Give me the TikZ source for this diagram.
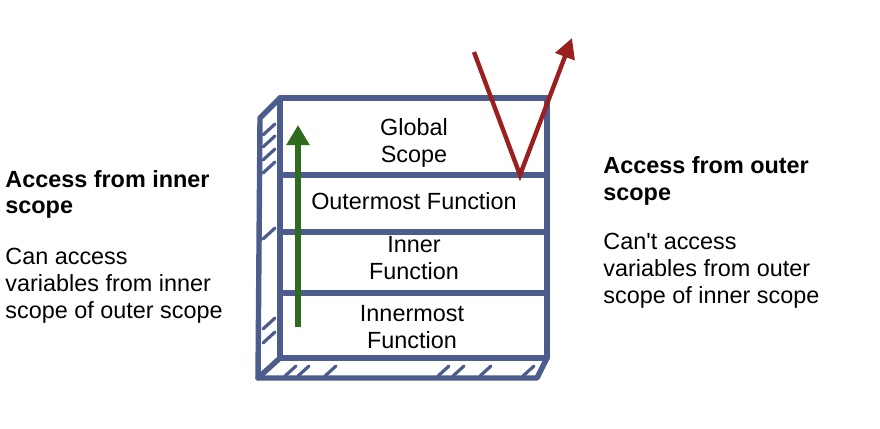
\documentclass[tikz,border=0pt]{standalone}
\usepackage{fontspec}
\setmainfont{Liberation Sans}[Ligatures=TeXOff]
\usepackage{xcolor}
\usetikzlibrary{arrows.meta}
\definecolor{frameblue}{HTML}{4C5C8C}
\definecolor{upgreen}{HTML}{2F6B1F}
\definecolor{downred}{HTML}{9A1F1F}

\begin{document}
\begin{tikzpicture}[x=0.5pt,y=-0.5pt,
	frame/.style={draw=frameblue,line width=2.7pt,line join=round,line cap=round},
	hatch/.style={draw=frameblue,line width=1.6pt,line cap=round},
	layertext/.style={font=\fontsize{11.7}{13.5}\selectfont,inner sep=0pt,align=center},
	sidetext/.style={font=\fontsize{11.7}{13.5}\selectfont,inner sep=0pt,align=left,anchor=north west}]
	\useasboundingbox (0,0) rectangle (880,429);
	
	\draw[frame] (280,98) rectangle (547,358);
	\draw[frame] (280,98) -- (260,118) -- (258,378) -- (537,378) -- (547,358);
	\draw[frame] (258,378) -- (280,358);
	\draw[frame] (284,175) -- (547,175);
	\draw[frame] (284,232) -- (547,232);
	\draw[frame] (284,293) -- (547,293);
	
	\foreach \y in {129,141,154,167,233,323,337}
		\draw[hatch] (263,\y+6) -- (275,\y-5);
	\foreach \x in {285,298,325,438,453,480,523}
		\draw[hatch] (\x,376) -- (\x+11,366);
	
	\node[layertext] (global) at (414,142.5) {Global\\Scope};
	\node[layertext] (outermost) at (414,201.5) {Outermost Function};
	\node[layertext] (inner) at (414,258) {Inner\\Function};
	\node[layertext] (innermost) at (412,327) {Innermost\\Function};
	
	\coordinate (up start) at (298,327);
	\coordinate (up end) at (298,125);
	\draw[upgreen,line width=2.6pt,-{Triangle[width=11pt,length=10pt]}] (up start) -- (up end);
	
	\coordinate (down start) at (474,52);
	\coordinate (bounce) at (520,175);
	\coordinate (down end) at (572,38);
	\draw[downred,line width=2.2pt,-{Triangle[width=10pt,length=10pt]}] (down start) -- (bounce) -- (down end);
	
	\node[sidetext,font=\fontsize{11.7}{13}\selectfont\bfseries] (innerhead) at (5,170) {Access from inner\\scope};
	\node[sidetext] (innerbody) at (5,248) {Can access\\variables from inner\\scope of outer scope};
	\node[sidetext,font=\fontsize{11.7}{13.5}\selectfont\bfseries] (outerhead) at (603,156) {Access from outer\\scope};
	\node[sidetext] (outerbody) at (603,233) {Can't access\\variables from outer\\scope of inner scope};
\end{tikzpicture}
\end{document}
